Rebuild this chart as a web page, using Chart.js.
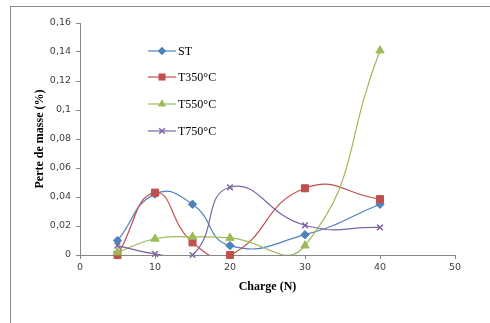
<!DOCTYPE html>
<html>
<head>
<meta charset="utf-8">
<script src="https://cdn.jsdelivr.net/npm/chart.js@4.4.1/dist/chart.umd.min.js"></script>
<style>
  html, body { margin: 0; padding: 0; background: #fff; }
  #wrap { position: relative; width: 490px; height: 323px; overflow: hidden; }
  #frame { position: absolute; left: 10px; top: 6px; width: 600px; height: 400px;
           border: 1px solid #8c8c8c; box-sizing: border-box; }
  canvas { position: absolute; left: 0; top: 0; }
</style>
</head>
<body>
<div id="wrap">
  <div id="frame"></div>
  <canvas id="chart" width="490" height="323"></canvas>
</div>
<script>
// data
const charge = [5, 10, 15, 20, 30, 40];
const seriesNames = ["ST", "T350°C", "T550°C", "T750°C"];
const st = [0.010, 0.042, 0.035, 0.0065, 0.014, 0.035];
const t350 = [0.0, 0.043, 0.0087, 0.0, 0.046, 0.0385];
const t550 = [0.0018, 0.0112, 0.0125, 0.0118, 0.0065, 0.141];
const t750 = [0.0065, 0.0008, 0.0, 0.0467, 0.0205, 0.019];
const xTicks = [0, 10, 20, 30, 40, 50];
const yTicks = [0, 0.02, 0.04, 0.06, 0.08, 0.1, 0.12, 0.14, 0.16];

const colors = ["#4F81BD", "#C0504D", "#9BBB59", "#8064A2"];
const markers = ["rectRot", "rect", "triangle", "crossRot"];
const radii = [4.2, 5, 4.8, 4];
const values = [st, t350, t550, t750];

function toPoints(arr) {
  return charge.map((x, i) => ({ x, y: arr[i] }));
}

const datasets = [];
values.forEach((arr, i) => {
  // smoothed line, clipped to the plot area
  datasets.push({
    label: seriesNames[i],
    data: toPoints(arr),
    showLine: true,
    borderColor: colors[i],
    borderWidth: 1.2,
    tension: 0.5,
    capBezierPoints: false,
    pointRadius: 0,
    fill: false,
    order: 10 - i,
  });
  // markers, not clipped so points on the axis stay whole
  datasets.push({
    label: seriesNames[i] + "_pts",
    data: toPoints(arr),
    showLine: false,
    pointStyle: markers[i],
    pointRadius: radii[i],
    pointBackgroundColor: colors[i],
    pointBorderColor: colors[i],
    pointBorderWidth: markers[i] === "crossRot" ? 1.5 : 1,
    clip: false,
    order: 5 - i,
  });
});

function drawMarker(ctx, style, x, y, r, color) {
  ctx.save();
  ctx.fillStyle = color;
  ctx.strokeStyle = color;
  ctx.lineWidth = 1.5;
  ctx.beginPath();
  if (style === "rectRot") {
    ctx.moveTo(x, y - r); ctx.lineTo(x + r, y); ctx.lineTo(x, y + r); ctx.lineTo(x - r, y);
    ctx.closePath(); ctx.fill();
  } else if (style === "rect") {
    const s = r / Math.SQRT2;
    ctx.rect(x - s, y - s, 2 * s, 2 * s); ctx.fill();
  } else if (style === "triangle") {
    ctx.moveTo(x, y - r); ctx.lineTo(x + r * 0.87, y + r * 0.5); ctx.lineTo(x - r * 0.87, y + r * 0.5);
    ctx.closePath(); ctx.fill();
  } else {
    const d = r * 0.7;
    ctx.moveTo(x - d, y - d); ctx.lineTo(x + d, y + d);
    ctx.moveTo(x + d, y - d); ctx.lineTo(x - d, y + d);
    ctx.stroke();
  }
  ctx.restore();
}

const insideLegend = {
  id: "insideLegend",
  afterDraw(chart) {
    const ctx = chart.ctx;
    const rows = [51, 77, 104, 131];
    ctx.save();
    ctx.font = "12px 'Liberation Serif'";
    ctx.textBaseline = "middle";
    seriesNames.forEach((name, i) => {
      const y = rows[i];
      ctx.strokeStyle = colors[i];
      ctx.lineWidth = 1.2;
      ctx.beginPath();
      ctx.moveTo(148, y);
      ctx.lineTo(176, y);
      ctx.stroke();
      drawMarker(ctx, markers[i], 162, y, radii[i], colors[i]);
      ctx.fillStyle = "#000";
      ctx.fillText(name, 178, y + 1);
    });
    ctx.restore();
  },
};

new Chart(document.getElementById("chart"), {
  type: "scatter",
  data: { datasets },
  plugins: [insideLegend],
  options: {
    responsive: false,
    animation: false,
    layout: { padding: { left: 0, top: 23, right: 35, bottom: 0 } },
    plugins: {
      legend: { display: false },
      tooltip: { enabled: false },
    },
    scales: {
      x: {
        type: "linear",
        min: 0,
        max: 50,
        afterBuildTicks: (scale) => { scale.ticks = xTicks.map((v) => ({ value: v })); },
        afterFit: (scale) => { scale.height = 68; },
        border: { color: "#868686", width: 1 },
        grid: { drawOnChartArea: false, drawTicks: true, tickLength: 4, tickColor: "#868686" },
        ticks: {
          padding: 3,
          color: "#404040",
          font: { family: "'DejaVu Sans'", size: 9.5 },
        },
        title: {
          display: true,
          text: "Charge (N)",
          color: "#000",
          font: { family: "'Liberation Serif'", size: 12, weight: "bold" },
          padding: { top: 0, bottom: 29 },
        },
      },
      y: {
        type: "linear",
        min: 0,
        max: 0.16,
        afterBuildTicks: (scale) => { scale.ticks = yTicks.map((v) => ({ value: v })); },
        afterFit: (scale) => { scale.width = 80; },
        border: { color: "#868686", width: 1 },
        grid: { drawOnChartArea: false, drawTicks: true, tickLength: 4, tickColor: "#868686" },
        ticks: {
          padding: 5,
          color: "#404040",
          font: { family: "'DejaVu Sans'", size: 9.5 },
          callback: (v) => String(Math.round(v * 100) / 100).replace(".", ","),
        },
        title: {
          display: true,
          text: "Perte de masse (%)",
          color: "#000",
          font: { family: "'Liberation Serif'", size: 12, weight: "bold" },
          padding: { top: 33, bottom: 0 },
        },
      },
    },
  },
});
</script>
</body>
</html>
